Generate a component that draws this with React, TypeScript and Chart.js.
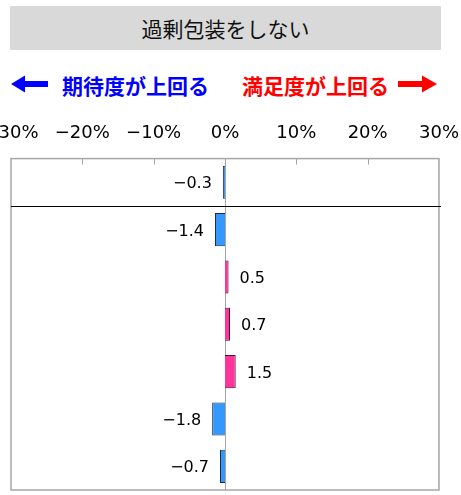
import React, { useEffect, useRef } from "react";
import { Chart, registerables } from "chart.js";
Chart.register(...registerables);

const categories = ["全体", "区分1", "区分2", "区分3", "区分4", "区分5", "区分6"];
const values = [-0.3, -1.4, 0.5, 0.7, 1.5, -1.8, -0.7];
const tickValues = [-30, -20, -10, 0, 10, 20, 30];
const titleText = "過剰包装をしない";
const leftLabel = "期待度が上回る";
const rightLabel = "満足度が上回る";

const fmt = (v: number, d: number) => (v < 0 ? "\u2212" : "") + Math.abs(v).toFixed(d);

const decor = {
  id: "decor",
  beforeDatasetsDraw(chart: any) {
    const { ctx, chartArea: a, scales } = chart;
    const x = scales.x;
    const y = scales.y;
    ctx.save();
    const line = (x1: number, y1: number, x2: number, y2: number) => {
      ctx.beginPath();
      ctx.moveTo(x1, y1);
      ctx.lineTo(x2, y2);
      ctx.stroke();
    };
    ctx.strokeStyle = "#a6a6a6";
    ctx.lineWidth = 1;
    const zx = Math.round(x.getPixelForValue(0)) + 0.5;
    line(zx, a.top, zx, a.bottom);
    tickValues.slice(1, -1).forEach((t) => {
      const px = Math.round(x.getPixelForValue(t)) + 0.5;
      line(px, a.top, px, a.top + 6);
    });
    ctx.lineWidth = 1.5;
    ctx.strokeRect(a.left, a.top, a.right - a.left, a.bottom - a.top);
    const sy = Math.round((y.getPixelForValue(0) + y.getPixelForValue(1)) / 2) + 0.5;
    ctx.strokeStyle = "#000";
    ctx.lineWidth = 1.2;
    line(a.left, sy, a.right + 2, sy);
    ctx.restore();
  },
  afterDatasetsDraw(chart: any) {
    const { ctx } = chart;
    const meta = chart.getDatasetMeta(0);
    ctx.save();
    ctx.font = "16px 'DejaVu Sans'";
    ctx.fillStyle = "#000";
    ctx.textBaseline = "middle";
    meta.data.forEach((bar: any, i: number) => {
      const v = values[i];
      const txt = fmt(v, 1);
      if (v < 0) {
        ctx.textAlign = "right";
        ctx.fillText(txt, bar.x - 11, bar.y + 2);
      } else {
        ctx.textAlign = "left";
        ctx.fillText(txt, bar.x + 11, bar.y + 2);
      }
    });
    ctx.restore();
  },
};

function ChartCanvas() {
  const ref = useRef<HTMLCanvasElement>(null);
  useEffect(() => {
    if (!ref.current) return;
    const chart = new Chart(ref.current, {
      type: "bar",
      data: {
        labels: categories,
        datasets: [
          {
            data: values,
            backgroundColor: values.map((v) => (v < 0 ? "#3399ff" : "#ff3399")),
            borderColor: values.map((v) => (v < 0 ? "#1f2a44" : "#4a1030")),
            borderWidth: 1,
            barPercentage: 0.7,
            categoryPercentage: 1,
          },
        ],
      },
      options: {
        indexAxis: "y",
        animation: false,
        responsive: false,
        layout: { padding: { left: 41, right: 52, top: 17, bottom: 5 } },
        plugins: { legend: { display: false }, tooltip: { enabled: false } },
        scales: {
          x: {
            type: "linear",
            position: "top",
            min: -30,
            max: 30,
            grid: { display: false },
            border: { display: false },
            ticks: {
              stepSize: 10,
              autoSkip: false,
              maxRotation: 0,
              padding: 6,
              color: "#000",
              font: { family: "DejaVu Sans", size: 18 },
              callback: (v: any) => fmt(Number(v), 0) + "%",
            },
          },
          y: { display: false },
        },
      },
      plugins: [decor],
    } as any);
    return () => chart.destroy();
  }, []);
  return <canvas ref={ref} width={521} height={395} style={{ display: "block", width: 521, height: 395 }} />;
}

export default function App() {
  return (
    <div style={{ position: "fixed", left: 0, top: 0, width: 461, height: 495, overflow: "hidden", background: "#fff" }}>
      <div
        style={{
          position: "absolute",
          left: 10,
          top: 6,
          width: 431,
          height: 44,
          background: "#d9d9d9",
          display: "flex",
          alignItems: "center",
          justifyContent: "center",
          fontFamily: "'Noto Sans CJK JP'",
          fontSize: 21,
          color: "#111",
        }}
      >
        {titleText}
      </div>
      <svg style={{ position: "absolute", left: 0, top: 0 }} width={461} height={100}>
        <polygon points="11,84 25,75.5 25,81 48,81 48,87 25,87 25,92.5" fill="#0000ff" />
        <polygon points="437,84 422,75.5 422,81 398,81 398,87 422,87 422,92.5" fill="#ff0000" />
      </svg>
      <div
        style={{
          position: "absolute",
          left: 62,
          top: 70,
          height: 30,
          lineHeight: "30px",
          fontFamily: "'Noto Sans CJK JP'",
          fontWeight: "bold",
          fontSize: 21,
          color: "#0000ff",
          whiteSpace: "nowrap",
        }}
      >
        {leftLabel}
      </div>
      <div
        style={{
          position: "absolute",
          left: 242,
          top: 70,
          height: 30,
          lineHeight: "30px",
          fontFamily: "'Noto Sans CJK JP'",
          fontWeight: "bold",
          fontSize: 21,
          color: "#ff0000",
          whiteSpace: "nowrap",
        }}
      >
        {rightLabel}
      </div>
      <div style={{ position: "absolute", left: -30, top: 100 }}>
        <ChartCanvas />
      </div>
    </div>
  );
}
